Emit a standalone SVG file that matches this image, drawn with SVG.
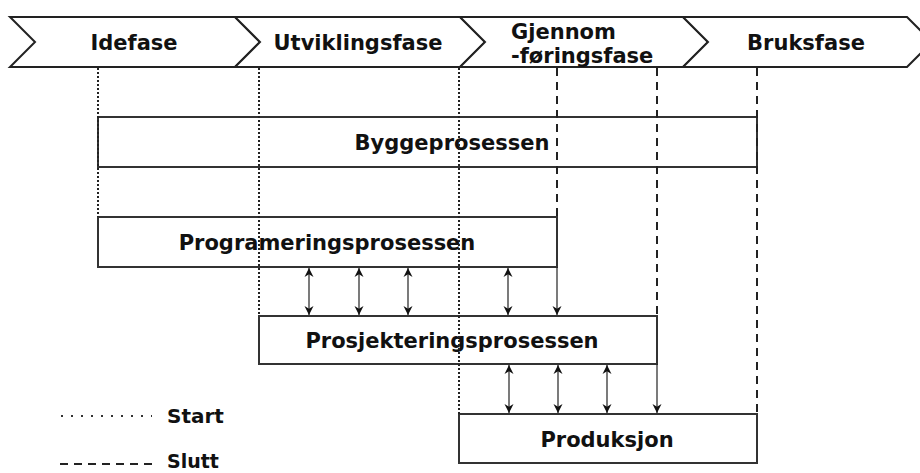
<svg xmlns="http://www.w3.org/2000/svg" width="920" height="473" viewBox="0 0 920 473">
  <style>
    .lbl { font-family: "DejaVu Sans", Verdana, sans-serif; font-weight: bold; font-size: 21px; fill: #111; }
    .mid { text-anchor: middle; }
    .phase { fill: #fff; stroke: #222; stroke-width: 2; stroke-linejoin: miter; }
    .box { fill: #fff; stroke: #333; stroke-width: 2; }
    .start { fill: none; stroke: #222; stroke-width: 2; stroke-dasharray: 2 2; }
    .end { fill: none; stroke: #222; stroke-width: 2; stroke-dasharray: 8 6; }
    .flow { fill: none; stroke: #222; stroke-width: 1.2; }
    .legend-dot { fill: none; stroke: #333; stroke-width: 2; stroke-dasharray: 2 8; }
    .legend-dash { fill: none; stroke: #222; stroke-width: 2; stroke-dasharray: 8 6; }
  </style>
  <defs>
    <marker id="arrow" viewBox="0 0 10 10" refX="10" refY="5" markerUnits="userSpaceOnUse" markerWidth="9" markerHeight="10" orient="auto-start-reverse">
      <path d="M0,0 L10,5 L0,10 L3,5 z" fill="#111"/>
    </marker>
  </defs>

  <!-- phase chevrons -->
  <g id="phase-idefase">
    <polygon class="phase" points="10,17 235,17 260,42 235,67 10,67 35,42"/>
    <text class="lbl mid" x="134" y="50">Idefase</text>
  </g>
  <g id="phase-utvikling">
    <polygon class="phase" points="235,17 460,17 485,42 460,67 235,67 260,42"/>
    <text class="lbl mid" x="358" y="50">Utviklingsfase</text>
  </g>
  <g id="phase-gjennomforing">
    <polygon class="phase" points="460,17 683,17 708,42 683,67 460,67 485,42"/>
    <text class="lbl" x="511" y="39">Gjennom</text>
    <text class="lbl" x="511" y="63">-føringsfase</text>
  </g>
  <g id="phase-bruk">
    <polygon class="phase" points="683,17 907,17 932,42 907,67 683,67 708,42"/>
    <text class="lbl mid" x="806" y="50">Bruksfase</text>
  </g>

  <!-- process boxes -->
  <g id="byggeprosessen">
    <rect class="box" x="98" y="117" width="659" height="50"/>
    <text class="lbl mid" x="452" y="150">Byggeprosessen</text>
  </g>
  <g id="programeringsprosessen">
    <rect class="box" x="98" y="217" width="459" height="50"/>
    <text class="lbl mid" x="327" y="250">Programeringsprosessen</text>
  </g>
  <g id="prosjekteringsprosessen">
    <rect class="box" x="259" y="316" width="398" height="48"/>
    <text class="lbl mid" x="452" y="348">Prosjekteringsprosessen</text>
  </g>
  <g id="produksjon">
    <rect class="box" x="459" y="414" width="298" height="49"/>
    <text class="lbl mid" x="607" y="447">Produksjon</text>
  </g>

  <!-- connectors: start/end guide lines and exchange arrows -->
  <g id="connectors">
    <line class="start" x1="98" y1="68" x2="98" y2="217"/>
    <line class="start" x1="259" y1="68" x2="259" y2="316"/>
    <line class="start" x1="459" y1="68" x2="459" y2="414"/>
    <line class="end" x1="557" y1="68" x2="557" y2="217"/>
    <line class="end" x1="657" y1="68" x2="657" y2="316"/>
    <line class="end" x1="757" y1="68" x2="757" y2="414"/>

    <line class="flow" x1="309" y1="268" x2="309" y2="315" marker-start="url(#arrow)" marker-end="url(#arrow)"/>
    <line class="flow" x1="359" y1="268" x2="359" y2="315" marker-start="url(#arrow)" marker-end="url(#arrow)"/>
    <line class="flow" x1="408" y1="268" x2="408" y2="315" marker-start="url(#arrow)" marker-end="url(#arrow)"/>
    <line class="flow" x1="508" y1="268" x2="508" y2="315" marker-start="url(#arrow)" marker-end="url(#arrow)"/>
    <line class="flow" x1="557" y1="267" x2="557" y2="315" marker-end="url(#arrow)"/>

    <line class="flow" x1="509" y1="365" x2="509" y2="413" marker-start="url(#arrow)" marker-end="url(#arrow)"/>
    <line class="flow" x1="558" y1="365" x2="558" y2="413" marker-start="url(#arrow)" marker-end="url(#arrow)"/>
    <line class="flow" x1="607" y1="365" x2="607" y2="413" marker-start="url(#arrow)" marker-end="url(#arrow)"/>
    <line class="flow" x1="657" y1="364" x2="657" y2="413" marker-end="url(#arrow)"/>
  </g>

  <!-- legend -->
  <g id="legend">
    <line class="legend-dot" x1="61" y1="416" x2="152" y2="416"/>
    <text class="lbl" x="167" y="423" style="font-size:20px">Start</text>
    <line class="legend-dash" x1="60" y1="464" x2="156" y2="464"/>
    <text class="lbl" x="167" y="468" style="font-size:19px">Slutt</text>
  </g>
</svg>
